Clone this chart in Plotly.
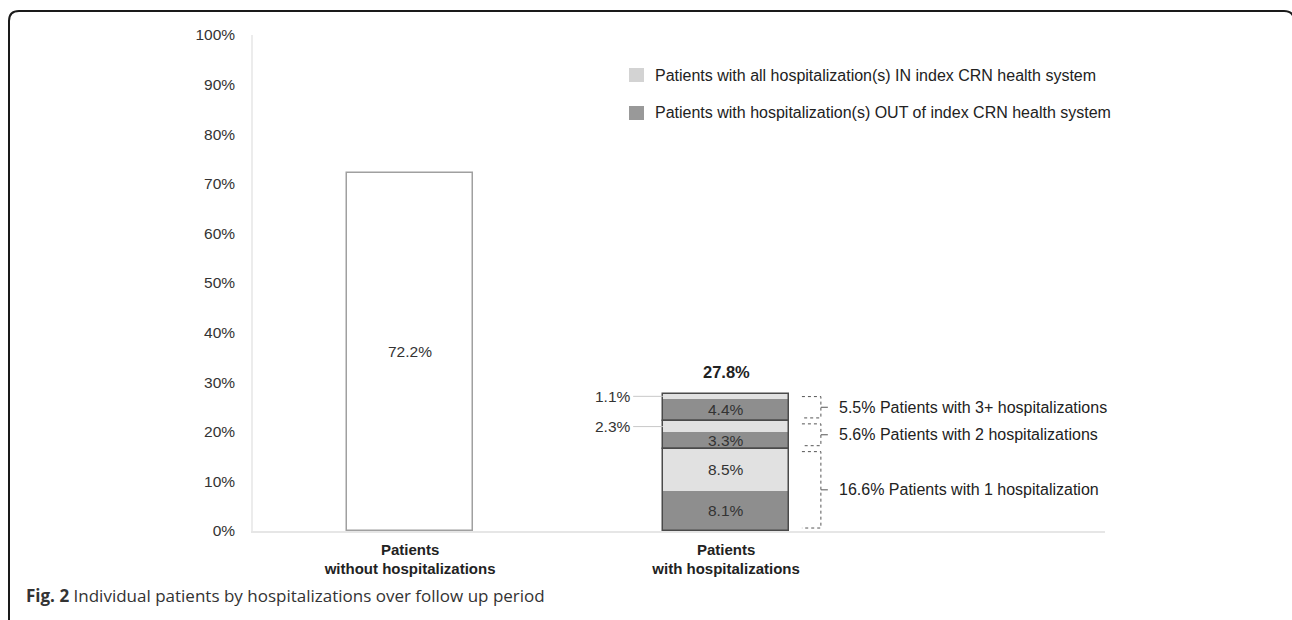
import numpy as np
import plotly.graph_objects as go

# ---------------- data ----------------
categories = ["Patients<br>without hospitalizations", "Patients<br>with hospitalizations"]
without_value = 72.2
with_total = 27.8

group_names = ["Patients with 1 hospitalization",
               "Patients with 2 hospitalizations",
               "Patients with 3+ hospitalizations"]
out_values = [8.1, 3.3, 4.4]   # OUT of index CRN health system
in_values = [8.5, 2.3, 1.1]    # all IN index CRN health system
series_names = ["Patients with all hospitalization(s) IN index CRN health system",
                "Patients with hospitalization(s) OUT of index CRN health system"]
y_ticks = [0, 10, 20, 30, 40, 50, 60, 70, 80, 90, 100]

caption_bold = "Fig. 2"
caption_text = "Individual patients by hospitalizations over follow up period"

# ---------------- styles ----------------
W, H = 1292, 620
ML, MR, MT, MB = 253, 187, 35, 89
FONT = "Liberation Sans, Arial, sans-serif"
C_IN = "#e1e1e1"
C_OUT = "#8e8e8e"
LEG_COLORS = ["#d3d3d3", "#999999"]
TXT = "#333333"
BAR_W = 0.4
FS = 15.5

out_arr = np.array(out_values)
in_arr = np.array(in_values)
group_tot = out_arr + in_arr
group_base = np.concatenate([[0], np.cumsum(group_tot)[:-1]])
out_base = group_base
in_base = group_base + out_arr

x0, x1 = 0, 1  # category positions

pw, ph = W - ML - MR, H - MT - MB
def px(xp): return (xp - ML) / pw
def py(yp): return (H - MB - yp) / ph

fig = go.Figure()

# bar without hospitalizations
fig.add_trace(go.Bar(x=[x0], y=[without_value], width=BAR_W,
                     marker=dict(color="white", line=dict(color="#a0a0a0", width=1.5)),
                     showlegend=False, hoverinfo="skip"))

# stacked segments
fig.add_trace(go.Bar(x=[x1] * len(in_values), y=in_values, base=in_base, width=BAR_W,
                     name=series_names[0], showlegend=False,
                     marker=dict(color=C_IN, line=dict(width=0))))
fig.add_trace(go.Bar(x=[x1] * len(out_values), y=out_values, base=out_base, width=BAR_W,
                     name=series_names[1], showlegend=False,
                     marker=dict(color=C_OUT, line=dict(width=0))))
# group outlines
fig.add_trace(go.Bar(x=[x1] * len(group_tot), y=group_tot, base=group_base, width=BAR_W,
                     marker=dict(color="rgba(0,0,0,0)", line=dict(color="#4a4a4a", width=1.5)),
                     showlegend=False, hoverinfo="skip"))

annotations = []
shapes = []

# label inside first bar
annotations.append(dict(x=x0, y=without_value / 2, text=f"{without_value}%", showarrow=False,
                        font=dict(size=FS, color=TXT, family=FONT)))
# total on top
annotations.append(dict(x=x1, y=float(group_tot.sum()), text=f"<b>{with_total}%</b>", showarrow=False,
                        yanchor="bottom", yshift=11, font=dict(size=16.5, color="#222", family=FONT)))

# segment labels
for vals, bases in ((out_arr, out_base), (in_arr, in_base)):
    for v, b in zip(vals, bases):
        mid = b + v / 2
        if v >= 3:
            annotations.append(dict(x=x1, y=mid, text=f"{v}%", showarrow=False,
                                    font=dict(size=FS, color=TXT, family=FONT)))
        else:
            annotations.append(dict(x=x1 - BAR_W / 2 - 0.096, y=mid, text=f"{v}%", showarrow=False,
                                    xanchor="right", font=dict(size=FS, color=TXT, family=FONT)))
            shapes.append(dict(type="line", xref="x", yref="y",
                               x0=x1 - BAR_W / 2 - 0.094, x1=x1 - BAR_W / 2, y0=mid, y1=mid,
                               line=dict(color="#c8c8c8", width=1)))

# brackets
bx0 = x1 + BAR_W / 2 + 0.04
bx1 = x1 + BAR_W / 2 + 0.10
inset = 0.6
for tot, b, name in zip(group_tot, group_base, group_names):
    top = b + tot - inset
    bot = b + inset
    mid = b + tot / 2
    shapes.append(dict(type="path", xref="x", yref="y",
                       path=f"M {bx0},{top} L {bx1},{top} L {bx1},{bot} L {bx0},{bot}",
                       line=dict(color="#555", width=1, dash="dot")))
    shapes.append(dict(type="line", xref="x", yref="y", x0=bx1, x1=bx1 + 0.022, y0=mid, y1=mid,
                       line=dict(color="#555", width=1)))
    annotations.append(dict(x=bx1 + 0.05, y=mid, text=f"{tot:.1f}% {name}", showarrow=False,
                            xanchor="left", font=dict(size=16, color="#222", family=FONT)))

# legend (swatches + labels)
for i, (name, col) in enumerate(zip(series_names, LEG_COLORS)):
    cy = 75 + 38 * i
    shapes.append(dict(type="rect", xref="paper", yref="paper",
                       x0=px(629), x1=px(644), y0=py(cy - 7), y1=py(cy + 7),
                       fillcolor=col, line=dict(width=0)))
    annotations.append(dict(xref="paper", yref="paper", x=px(653), y=py(cy), xanchor="left",
                            yanchor="middle", text=name, showarrow=False,
                            font=dict(size=16, color="#222", family=FONT)))

# caption
annotations.append(dict(xref="paper", yref="paper", x=px(24), y=py(595), xanchor="left", yanchor="middle",
                        text=f"<b>{caption_bold}</b> {caption_text}", showarrow=False,
                        font=dict(size=17, color="#333", family="Open Sans, sans-serif")))

# frame
r = 10
L, T, R, B = 9, 11, 1294, 640
frame = (f"M {px(L)},{py(B)} L {px(L)},{py(T + r)} Q {px(L)},{py(T)} {px(L + r)},{py(T)} "
         f"L {px(R - r)},{py(T)} Q {px(R)},{py(T)} {px(R)},{py(T + r)} L {px(R)},{py(B)}")
shapes.append(dict(type="path", xref="paper", yref="paper", path=frame,
                   line=dict(color="#1a1a1a", width=2)))

fig.update_layout(
    width=W, height=H, margin=dict(l=ML, r=MR, t=MT, b=MB),
    paper_bgcolor="white", plot_bgcolor="white",
    barmode="overlay", bargap=0, showlegend=False,
    font=dict(family=FONT, size=FS, color=TXT),
    xaxis=dict(range=[-0.497, 2.199], tickvals=[x0, x1],
               ticktext=[f"<b>{c}</b>" for c in categories],
               showgrid=False, zeroline=False, showline=True, linecolor="#e6e6e6", linewidth=1.5,
               ticks="", ticklabelstandoff=4, tickfont=dict(size=15, color="#222", family=FONT),
               fixedrange=True),
    yaxis=dict(range=[0, 100], tickvals=y_ticks, ticktext=[f"{t}%" for t in y_ticks],
               showgrid=False, zeroline=False, showline=True, linecolor="#ececec", linewidth=1.5,
               ticks="", ticklabelstandoff=13, tickfont=dict(size=FS, color=TXT, family=FONT),
               fixedrange=True),
    annotations=annotations, shapes=shapes,
)

fig.write_html("out.html", config={"displayModeBar": False})
